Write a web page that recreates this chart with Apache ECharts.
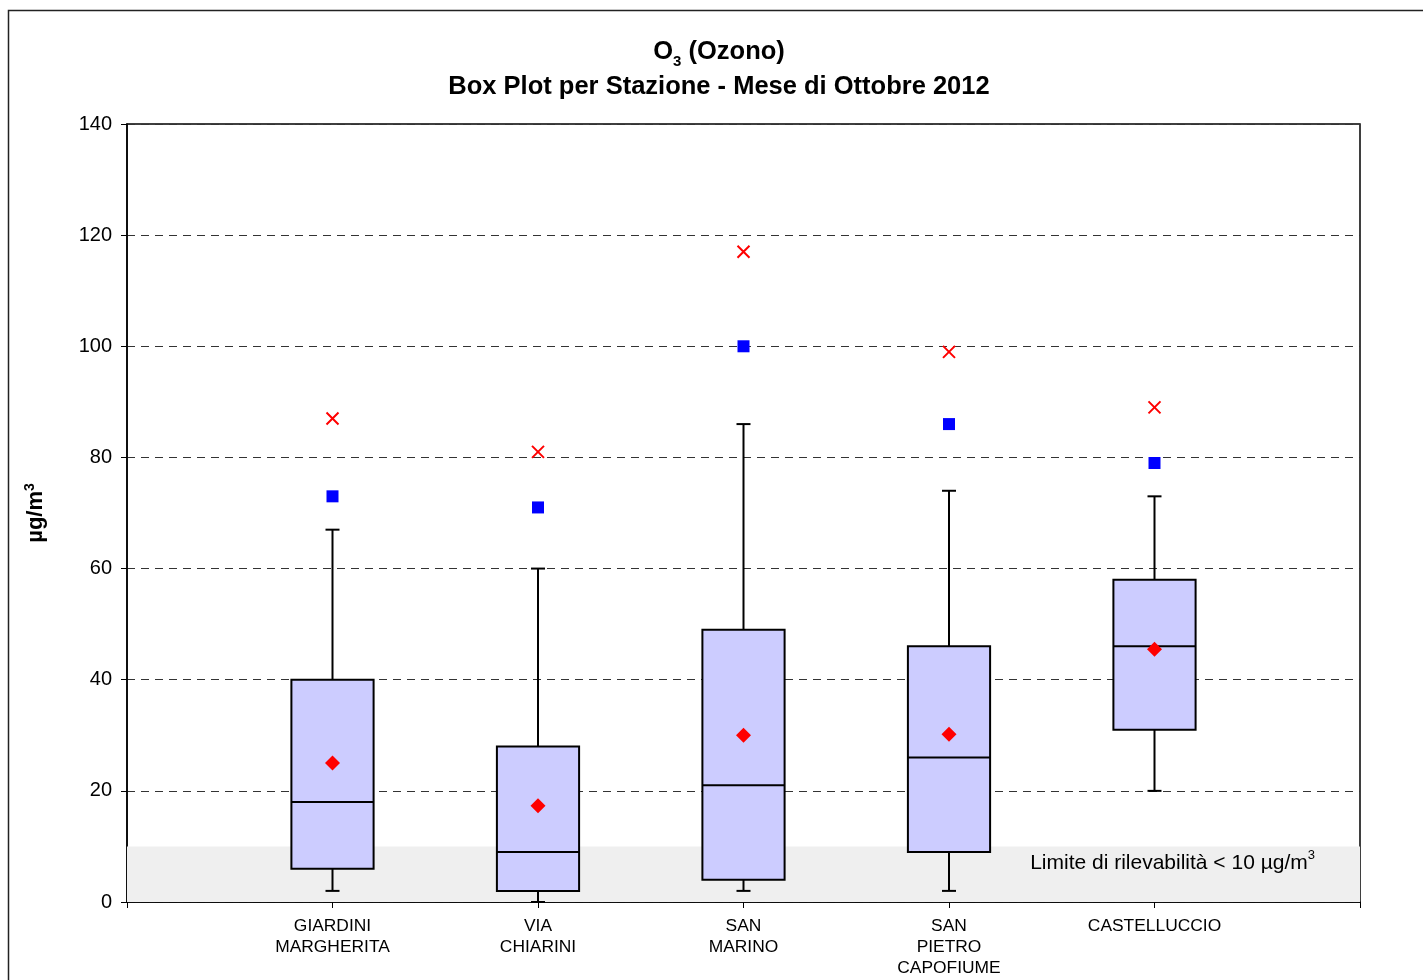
<!DOCTYPE html>
<html>
<head>
<meta charset="utf-8">
<title>O3 Box Plot</title>
<script src="https://cdn.jsdelivr.net/npm/echarts@6/dist/echarts.min.js"></script>
<style>
  html, body { margin: 0; padding: 0; background: #fff; }
  #main { width: 1423px; height: 980px; }
</style>
</head>
<body>
<div id="main"></div>
<script type="text/javascript">
    // stazioni (slot vuoti ai bordi come nel grafico originale)
    var stazioni = ['', 'GIARDINI\nMARGHERITA', 'VIA\nCHIARINI', 'SAN\nMARINO', 'SAN\nPIETRO\nCAPOFIUME', 'CASTELLUCCIO', ''];
    var minimi   = [2, 0, 2, 2, 20];
    var q1       = [6, 2, 4, 9, 31];
    var mediane  = [18, 9, 21, 26, 46];
    var q3       = [40, 28, 49, 46, 58];
    var massimi  = [67, 60, 86, 74, 73];
    var medie    = [25, 17.3, 30, 30.2, 45.5];
    var perc98   = [73, 71, 100, 86, 79];   // quadrati blu
    var valMax   = [87, 81, 117, 99, 89];   // croci rosse
    var yTicks   = [0, 20, 40, 60, 80, 100, 120, 140];

    var boxData = [], mediaData = [], quadData = [], croceData = [];
    for (var i = 0; i < 5; i++) {
        boxData.push([i + 1, minimi[i], q1[i], mediane[i], q3[i], massimi[i]]);
        mediaData.push([i + 1, medie[i]]);
        quadData.push([i + 1, perc98[i]]);
        croceData.push([i + 1, valMax[i]]);
    }

    var myChart = echarts.init(document.getElementById('main'));

    function renderBox(params, api) {
        var x = api.value(0);
        var pMin = api.coord([x, api.value(1)]);
        var pQ1 = api.coord([x, api.value(2)]);
        var pMed = api.coord([x, api.value(3)]);
        var pQ3 = api.coord([x, api.value(4)]);
        var pMax = api.coord([x, api.value(5)]);
        var w = api.size([1, 0])[0] * 0.4;
        var cap = 7;
        var cx = pMed[0];
        var lineStyle = { stroke: '#000', lineWidth: 2 };
        return {
            type: 'group',
            children: [
                { type: 'line', shape: { x1: cx, y1: pQ3[1], x2: cx, y2: pMax[1] }, style: lineStyle },
                { type: 'line', shape: { x1: cx - cap, y1: pMax[1], x2: cx + cap, y2: pMax[1] }, style: lineStyle },
                { type: 'line', shape: { x1: cx, y1: pQ1[1], x2: cx, y2: pMin[1] }, style: lineStyle },
                { type: 'line', shape: { x1: cx - cap, y1: pMin[1], x2: cx + cap, y2: pMin[1] }, style: lineStyle },
                { type: 'rect', shape: { x: cx - w / 2, y: pQ3[1], width: w, height: pQ1[1] - pQ3[1] },
                  style: { fill: '#ccccff', stroke: '#000', lineWidth: 2 } },
                { type: 'line', shape: { x1: cx - w / 2, y1: pMed[1], x2: cx + w / 2, y2: pMed[1] }, style: lineStyle }
            ]
        };
    }

    var option = {
        animation: false,
        backgroundColor: '#fff',
        graphic: [
            {
                type: 'rect', left: 6, top: 8, silent: true,
                shape: { width: 1450, height: 1000 },
                style: { fill: 'none', stroke: '#222', lineWidth: 1.5 }
            },
            {
                // titolo
                type: 'text', x: 719, y: 34, z: 10,
                style: {
                    text: '{b|O}{sub|3}{b| (Ozono)}\n{b|Box Plot per Stazione - Mese di Ottobre 2012}',
                    align: 'center',
                    verticalAlign: 'top',
                    rich: {
                        b: { fontFamily: 'Liberation Sans', fontWeight: 'bold', fontSize: 25.5, fill: '#000', lineHeight: 35 },
                        sub: { fontFamily: 'Liberation Sans', fontWeight: 'bold', fontSize: 15, fill: '#000', lineHeight: 33, verticalAlign: 'bottom' }
                    }
                }
            },
            {
                type: 'text', right: 108, top: 849, z: 10,
                style: {
                    text: '{a|Limite di rilevabilità < 10 µg/m}{s|3}',
                    rich: {
                        a: { fontFamily: 'Liberation Sans', fontSize: 21, fill: '#000', lineHeight: 28 },
                        s: { fontFamily: 'Liberation Sans', fontSize: 13, fill: '#000', lineHeight: 28, verticalAlign: 'top' }
                    }
                }
            }
        ],
        grid: {
            left: 127, right: 63, top: 124, bottom: 78,
            show: true, borderColor: '#000', borderWidth: 1.5, backgroundColor: 'transparent'
        },
        xAxis: {
            type: 'category',
            data: stazioni,
            boundaryGap: false,
            axisLine: { onZero: false, lineStyle: { color: '#000', width: 1.5 } },
            axisTick: { show: true, length: 6, interval: 0, lineStyle: { color: '#000' } },
            axisLabel: { interval: 0, margin: 14, fontFamily: 'Liberation Sans', fontSize: 17.4, color: '#000', lineHeight: 21 },
            splitLine: { show: false }
        },
        yAxis: {
            type: 'value',
            min: yTicks[0],
            max: yTicks[yTicks.length - 1],
            interval: 20,
            name: '{a|µg/m}{s|3}',
            nameLocation: 'middle',
            nameGap: 78,
            nameRotate: 90,
            nameTextStyle: {
                rich: {
                    a: { fontFamily: 'Liberation Sans', fontWeight: 'bold', fontSize: 22, color: '#000', lineHeight: 26 },
                    s: { fontFamily: 'Liberation Sans', fontWeight: 'bold', fontSize: 14, color: '#000', lineHeight: 26, verticalAlign: 'top' }
                }
            },
            axisLine: { show: true, lineStyle: { color: '#000', width: 1.5 } },
            axisTick: { show: true, length: 6, lineStyle: { color: '#000' } },
            axisLabel: { margin: 15, fontFamily: 'Liberation Sans', fontSize: 20, color: '#000' },
            splitLine: { show: true, lineStyle: { color: '#333', type: [8, 6], width: 1 } }
        },
        series: [
            {
                type: 'custom',
                name: 'box',
                renderItem: renderBox,
                encode: { x: 0, y: [1, 2, 3, 4, 5] },
                data: boxData,
                z: 3,
                markArea: {
                    silent: true,
                    itemStyle: { color: '#efefef' },
                    data: [[{ xAxis: 0, yAxis: 0 }, { xAxis: 6, yAxis: 10 }]]
                }
            },
            {
                type: 'scatter', name: 'media', data: mediaData, z: 5,
                symbol: 'diamond', symbolSize: 15,
                itemStyle: { color: '#ff0000', opacity: 1 }
            },
            {
                type: 'scatter', name: '98 percentile', data: quadData, z: 5,
                symbol: 'rect', symbolSize: 12,
                itemStyle: { color: '#0000ff', opacity: 1 }
            },
            {
                type: 'scatter', name: 'massimo', data: croceData, z: 5,
                symbol: 'path://M0,0L10,10M10,0L0,10', symbolSize: 12,
                itemStyle: { color: 'transparent', borderColor: '#ff0000', borderWidth: 2, opacity: 1 }
            }
        ]
    };

    myChart.setOption(option);
</script>
</body>
</html>
